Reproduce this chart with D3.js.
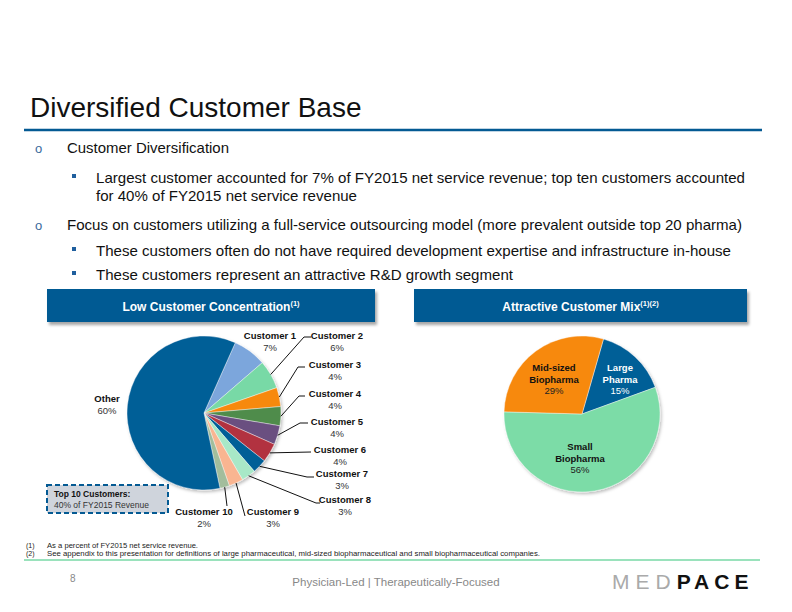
<!DOCTYPE html>
<html>
<head>
<meta charset="utf-8">
<script src="https://cdn.jsdelivr.net/npm/d3@7"></script>
<style>
  html, body { margin: 0; padding: 0; background: #fff; }
  svg { display: block; font-family: "Liberation Sans", Arial, sans-serif; }
</style>
</head>
<body>
<script>
// data
const customers = ["Customer 1", "Customer 2", "Customer 3", "Customer 4", "Customer 5",
  "Customer 6", "Customer 7", "Customer 8", "Customer 9", "Customer 10", "Other"];
const customerShares = [7, 6, 4, 4, 4, 4, 3, 3, 3, 2, 60];
const customerColors = ["#7ba6dc", "#78d9a6", "#f7890f", "#508c4b", "#6a4f80",
  "#b2333f", "#045e97", "#a8e8c7", "#f9b591", "#a2bd9c", "#045e97"];

const segments = [["Large", "Pharma"], ["Small", "Biopharma"], ["Mid-sized", "Biopharma"]];
const segmentShares = [15, 56, 29];
const segmentColors = ["#045e97", "#7bdca7", "#f7890f"];
const segmentTextColors = ["#fff", "#111", "#111"];

const bullets = [
  { level: 0, lines: ["Customer Diversification"] },
  { level: 1, lines: ["Largest customer accounted for 7% of FY2015 net service revenue; top ten customers accounted",
    "for 40% of FY2015 net service revenue"] },
  { level: 0, lines: ["Focus on customers utilizing a full-service outsourcing model (more prevalent outside top 20 pharma)"] },
  { level: 1, lines: ["These customers often do not have required development expertise and infrastructure in-house"] },
  { level: 1, lines: ["These customers represent an attractive R&D growth segment"] },
];
const footnotes = [
  ["(1)", "As a percent of FY2015 net service revenue."],
  ["(2)", "See appendix to this presentation for definitions of large pharmaceutical, mid-sized biopharmaceutical and small biopharmaceutical companies."],
];

// layout
const W = 792, H = 612;
const BLUE = "#045a93";
const deg = Math.PI / 180;
const LEFT_PIE = { cx: 204, cy: 413, r: 77, start: 24 * deg };
const RIGHT_PIE = { cx: 582, cy: 414, r: 78, start: 16 * deg };
// label anchor (centre x, name baseline) and leader elbow / end for each customer
const customerLabels = [
  { x: 270, y: 339, line: null },
  { x: 337, y: 339, line: [[304, 337], [311, 337]] },
  { x: 335, y: 368, line: [[298, 367], [305, 367]] },
  { x: 335, y: 397, line: [[299, 396], [305, 396]] },
  { x: 337, y: 425, line: [[300, 423], [308, 423]] },
  { x: 340, y: 453, line: [[311, 452]] },
  { x: 342, y: 477, line: [[307, 477], [314, 477]] },
  { x: 345, y: 503, line: [[316, 503], [320, 503]] },
  { x: 273, y: 515, line: [[245, 516]] },
  { x: 204, y: 515, line: [[227, 506]] },
  { x: 107, y: 402, line: null },
];
const segmentLabels = [{ x: 620, y: 371 }, { x: 580, y: 450 }, { x: 554, y: 371 }];
const bulletRows = [
  [{ y: 153, w: 162 }],
  [{ y: 183, w: 649 }, { y: 201, w: 261 }],
  [{ y: 230, w: 675 }],
  [{ y: 256, w: 635 }],
  [{ y: 280, w: 417 }],
];

const svg = d3.select("body").append("svg")
  .attr("width", W).attr("height", H)
  .attr("viewBox", [0, 0, W, H]);

const defs = svg.append("defs");
defs.append("filter").attr("id", "shadow").attr("x", "-10%").attr("y", "-10%")
  .attr("width", "130%").attr("height", "140%")
  .append("feDropShadow").attr("dx", 2).attr("dy", 3).attr("stdDeviation", 1.6)
  .attr("flood-color", "#000").attr("flood-opacity", 0.35);
defs.append("filter").attr("id", "pieshadow").attr("x", "-10%").attr("y", "-10%")
  .attr("width", "130%").attr("height", "130%")
  .append("feDropShadow").attr("dx", 1.5).attr("dy", 2).attr("stdDeviation", 1.5)
  .attr("flood-color", "#000").attr("flood-opacity", 0.25);

// title
svg.append("text").attr("x", 30).attr("y", 117)
  .attr("font-size", 28).attr("fill", "#111")
  .text("Diversified Customer Base");
svg.append("line").attr("x1", 24).attr("x2", 762).attr("y1", 130).attr("y2", 130)
  .attr("stroke", BLUE).attr("stroke-width", 2.5);

// bullets
const body = svg.append("g").attr("font-size", 15).attr("fill", "#111");
bullets.forEach((b, i) => {
  const rows = bulletRows[i];
  const tx = b.level === 0 ? 67 : 96;
  if (b.level === 0) {
    body.append("text").attr("x", 35).attr("y", rows[0].y)
      .attr("font-size", 13).attr("fill", "#3a6a9c").text("o");
  } else {
    body.append("rect").attr("x", 72).attr("y", rows[0].y - 9)
      .attr("width", 4).attr("height", 4).attr("fill", "#1f5f9e");
  }
  b.lines.forEach((line, j) => {
    body.append("text").attr("x", tx).attr("y", rows[j].y)
      .attr("textLength", rows[j].w).attr("lengthAdjust", "spacingAndGlyphs")
      .text(line);
  });
});

// header bars
function header(x, w, title, sup) {
  const g = svg.append("g");
  g.append("rect").attr("x", x).attr("y", 289).attr("width", w).attr("height", 33)
    .attr("fill", BLUE).attr("filter", "url(#shadow)");
  const t = g.append("text").attr("x", x + w / 2).attr("y", 311)
    .attr("text-anchor", "middle").attr("fill", "#fff")
    .attr("font-size", 12).attr("font-weight", "bold");
  t.append("tspan").text(title);
  t.append("tspan").attr("font-size", 7.5).attr("dy", -5).text(sup);
}
header(47, 328, "Low Customer Concentration", "(1)");
header(414, 333, "Attractive Customer Mix", "(1)(2)");

// pies
function drawPie(cfg, shares, colors) {
  const pie = d3.pie().sort(null).value(d => d)
    .startAngle(cfg.start).endAngle(cfg.start + 2 * Math.PI);
  const arc = d3.arc().innerRadius(0).outerRadius(cfg.r);
  const arcs = pie(shares);
  const g = svg.append("g").attr("transform", `translate(${cfg.cx},${cfg.cy})`)
    .attr("filter", "url(#pieshadow)");
  g.selectAll("path").data(arcs).join("path")
    .attr("d", arc)
    .attr("fill", (d, i) => colors[i])
    .attr("stroke", "#fff").attr("stroke-width", 0.4);
  return arcs;
}

const leftArcs = drawPie(LEFT_PIE, customerShares, customerColors);

// leader lines
const leaders = svg.append("g").attr("fill", "none").attr("stroke", "#111").attr("stroke-width", 1);
leftArcs.forEach((a, i) => {
  const lab = customerLabels[i];
  if (!lab.line) return;
  const mid = (a.startAngle + a.endAngle) / 2;
  const p0 = [LEFT_PIE.cx + LEFT_PIE.r * Math.sin(mid), LEFT_PIE.cy - LEFT_PIE.r * Math.cos(mid)];
  leaders.append("path").attr("d", d3.line()([p0, ...lab.line]));
});

// customer labels
const labels = svg.append("g").attr("text-anchor", "middle").attr("font-size", 9.5);
customers.forEach((c, i) => {
  const lab = customerLabels[i];
  labels.append("text").attr("x", lab.x).attr("y", lab.y)
    .attr("font-weight", "bold").attr("fill", "#111").text(c);
  labels.append("text").attr("x", lab.x).attr("y", lab.y + 11.5)
    .attr("fill", "#333").text(`${customerShares[i]}%`);
});

// top 10 callout
const top10 = customerShares.slice(0, 10).reduce((s, v) => s + v, 0);
svg.append("rect").attr("x", 47).attr("y", 485).attr("width", 121).attr("height", 28)
  .attr("fill", "#cfd4dc").attr("stroke", BLUE).attr("stroke-width", 2)
  .attr("stroke-dasharray", "5,3");
svg.append("text").attr("x", 54).attr("y", 497).attr("font-size", 8.5)
  .attr("font-weight", "bold").attr("fill", "#111").text("Top 10 Customers:");
svg.append("text").attr("x", 54).attr("y", 508).attr("font-size", 8.5)
  .attr("fill", "#333").text(`${top10}% of FY2015 Revenue`);

// right pie
drawPie(RIGHT_PIE, segmentShares, segmentColors);
const segText = svg.append("g").attr("text-anchor", "middle").attr("font-size", 9.5);
segments.forEach((s, i) => {
  const lab = segmentLabels[i];
  s.forEach((line, j) => {
    segText.append("text").attr("x", lab.x).attr("y", lab.y + j * 11.5)
      .attr("font-weight", "bold").attr("fill", segmentTextColors[i]).text(line);
  });
  segText.append("text").attr("x", lab.x).attr("y", lab.y + 23)
    .attr("fill", i === 0 ? "#fff" : "#222").text(`${segmentShares[i]}%`);
});

// footnotes
const fn = svg.append("g").attr("font-size", 7).attr("fill", "#222");
footnotes.forEach((f, i) => {
  const y = 548 + i * 7.5;
  fn.append("text").attr("x", 26).attr("y", y).text(f[0]);
  fn.append("text").attr("x", 47).attr("y", y)
    .attr("textLength", i === 0 ? 151 : 493).attr("lengthAdjust", "spacingAndGlyphs")
    .text(f[1]);
});
svg.append("line").attr("x1", 24).attr("x2", 760).attr("y1", 560).attr("y2", 560)
  .attr("stroke", "#78d9a6").attr("stroke-width", 1.5);

// footer
svg.append("text").attr("x", 70).attr("y", 582).attr("font-size", 10)
  .attr("fill", "#888").text("8");
svg.append("text").attr("x", 396).attr("y", 586).attr("font-size", 11.5)
  .attr("text-anchor", "middle").attr("fill", "#888")
  .text("Physician-Led  |  Therapeutically-Focused");
const logo = svg.append("text").attr("x", 612).attr("y", 589).attr("font-size", 21);
logo.append("tspan").attr("fill", "#aaa").attr("font-weight", "normal")
  .attr("letter-spacing", 6).text("MED");
logo.append("tspan").attr("fill", "#111").attr("font-weight", "bold")
  .attr("letter-spacing", 5).text("PACE");
</script>
</body>
</html>
